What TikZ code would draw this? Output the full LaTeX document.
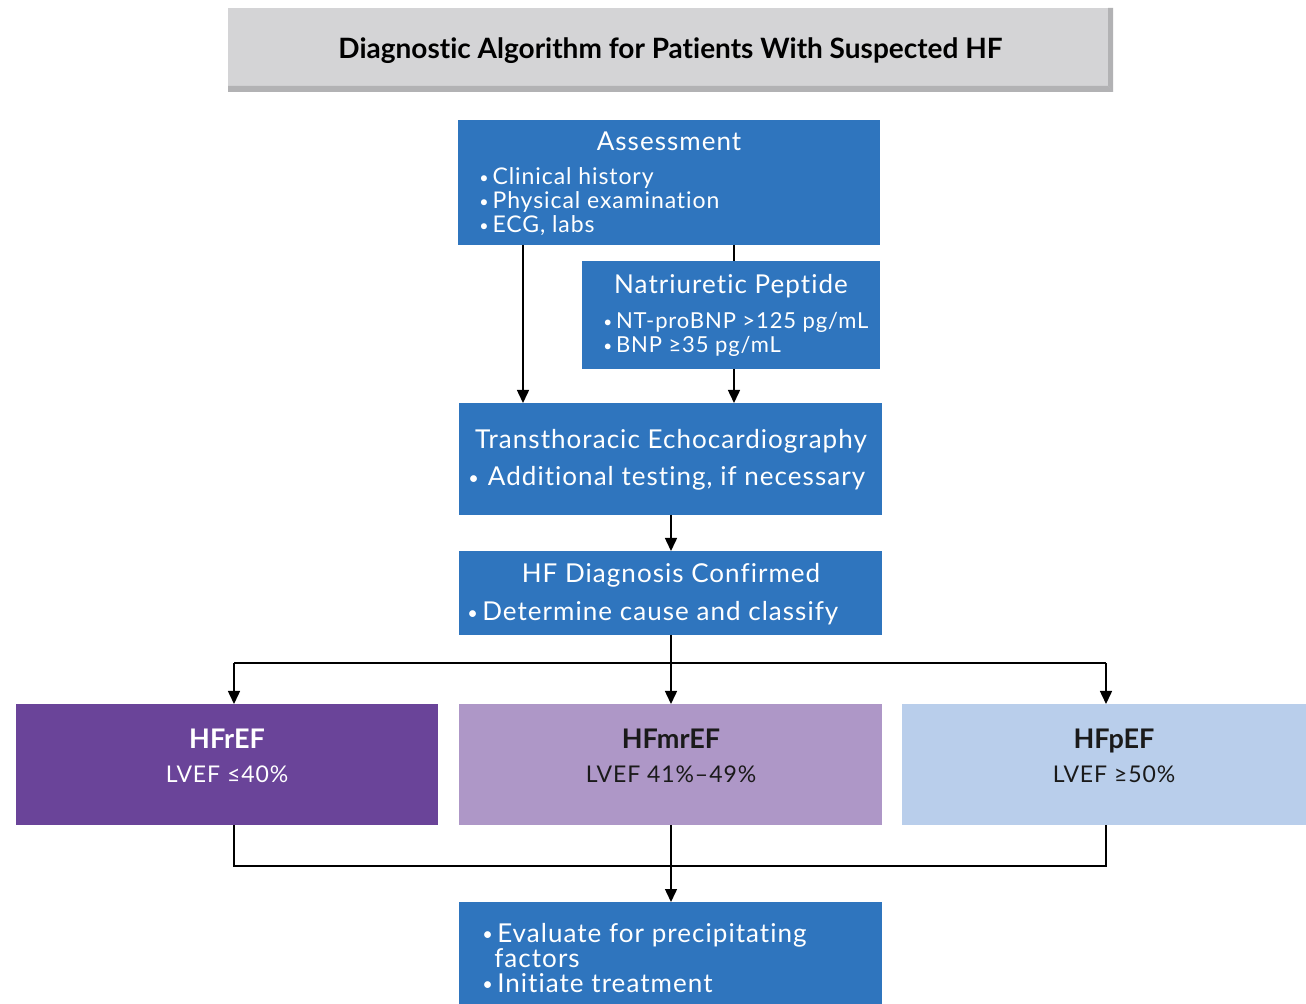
\documentclass[tikz,border=0pt]{standalone}
\usepackage{fontspec}
\setmainfont{Lato}[Ligatures=NoCommon]
\newfontfamily\boxfont{Lato}[LetterSpace=4,Ligatures=NoCommon]
\usetikzlibrary{arrows.meta}
\definecolor{hfblue}{RGB}{47,117,190}
\definecolor{titlegray}{RGB}{212,212,214}
\definecolor{bevelgray}{RGB}{178,178,180}
\definecolor{purpdark}{RGB}{106,68,153}
\definecolor{purplight}{RGB}{174,151,199}
\definecolor{bluelight}{RGB}{185,206,235}
\definecolor{darktext}{RGB}{26,26,26}
\newcommand{\bul}{\raisebox{0.12ex}{\scalebox{0.7}{•}}}
\begin{document}
\begin{tikzpicture}[x=0.5pt,y=-0.5pt,
  boxshape/.style={rectangle, inner sep=0pt, outer sep=0pt},
  bluebox/.style={boxshape, fill=hfblue},
  wtxt/.style={inner sep=0pt, text=white, font=\boxfont\fontsize{13pt}{15pt}\selectfont},
  wsmall/.style={inner sep=0pt, text=white, font=\boxfont\fontsize{11.5pt}{13pt}\selectfont},
  htitle/.style={inner sep=0pt, font=\bfseries\fontsize{13.5pt}{15pt}\selectfont},
  hsub/.style={inner sep=0pt, font=\boxfont\fontsize{11.5pt}{13pt}\selectfont},
  conn/.style={line width=0.75pt, draw=black},
  arr/.style={conn, -{Triangle[width=6pt,length=6.5pt]}}]
\useasboundingbox (0,0) rectangle (1306,1004);
\fill[white] (0,0) rectangle (1306,1004);

% title bar with bevel
\node[boxshape, fill=titlegray, minimum width=442.5pt, minimum height=42pt] (title) at (670.5,50) {};
\fill[bevelgray] (title.south west) -- (title.south east) -- ([xshift=-2.5pt,yshift=3pt]title.south east) -- ([yshift=3pt]title.south west) -- cycle;
\fill[bevelgray] (title.north east) -- (title.south east) -- ([xshift=-2.5pt,yshift=3pt]title.south east) -- ([xshift=-2.5pt]title.north east) -- cycle;
\node[inner sep=0pt, anchor=base, font=\bfseries\fontsize{14pt}{16pt}\selectfont] (titleT) at (670.5,59) {Diagnostic Algorithm for Patients With Suspected HF};

% Assessment
\node[bluebox, minimum width=211pt, minimum height=62.5pt] (assess) at (669,182.5) {};
\node[wtxt, anchor=base] (assessT) at (669,151) {Assessment};
\node[wsmall, anchor=base west] (assess1) at (479,185) {\bul\,Clinical history};
\node[wsmall, anchor=base west] (assess2) at (479,209) {\bul\,Physical examination};
\node[wsmall, anchor=base west] (assess3) at (479,233) {\bul\,ECG, labs};

% Natriuretic peptide
\node[bluebox, minimum width=149pt, minimum height=54pt] (np) at (731,315) {};
\node[wtxt, anchor=base] (npT) at (731,294) {Natriuretic Peptide};
\node[wsmall, anchor=base west, font=\boxfont\fontsize{11pt}{13pt}\selectfont] (np1) at (603,329) {\bul\,NT-proBNP >125 pg/mL};
\node[wsmall, anchor=base west, font=\boxfont\fontsize{11pt}{13pt}\selectfont] (np2) at (603,353) {\bul\,BNP ≥35 pg/mL};

% Echo
\node[bluebox, minimum width=211.5pt, minimum height=56pt] (echo) at (670.5,459) {};
\node[wtxt, anchor=base] (echoT) at (671,449) {Transthoracic Echocardiography};
\node[wtxt, anchor=base west] (echo1) at (468,486) {\bul\hspace{4.5pt}Additional testing, if necessary};

% Dx
\node[bluebox, minimum width=211.5pt, minimum height=42pt] (dx) at (670.5,593) {};
\node[wtxt, anchor=base] (dxT) at (671,583) {HF Diagnosis Confirmed};
\node[wtxt, anchor=base west] (dx1) at (467,621) {\bul\,Determine cause and classify};

% HF types
\node[boxshape, fill=purpdark, minimum width=211pt, minimum height=60.5pt] (hfr) at (227,764.5) {};
\node[htitle, text=white, anchor=base] (hfrT) at (227,748) {HFrEF};
\node[hsub, text=white, anchor=base] (hfrS) at (227,782) {LVEF ≤40\%};

\node[boxshape, fill=purplight, minimum width=211.5pt, minimum height=60.5pt] (hfm) at (670.5,764.5) {};
\node[htitle, text=darktext, anchor=base] (hfmT) at (671,748) {HFmrEF};
\node[hsub, text=darktext, anchor=base] (hfmS) at (671,782) {LVEF 41\%–49\%};

\node[boxshape, fill=bluelight, minimum width=202pt, minimum height=60.5pt] (hfp) at (1104,764.5) {};
\node[htitle, text=darktext, anchor=base] (hfpT) at (1114,748) {HFpEF};
\node[hsub, text=darktext, anchor=base] (hfpS) at (1114,782) {LVEF ≥50\%};

% bottom box
\node[bluebox, minimum width=211.5pt, minimum height=51pt] (treat) at (670.5,953) {};
\node[wtxt, anchor=base west] (treat1) at (482,942) {\bul\,Evaluate for precipitating};
\node[wtxt, anchor=base west] (treat2) at (494,967) {factors};
\node[wtxt, anchor=base west] (treat3) at (482,992) {\bul\,Initiate treatment};

% x positions
\coordinate (xL) at (523,0);
\coordinate (xR) at (734,0);
\coordinate (xC) at (671,0);
\coordinate (x1) at (234,0);
\coordinate (x3) at (1106,0);
\coordinate (ysplit) at (0,663);
\coordinate (yjoin) at (0,866);

% connectors
\draw[arr] (assess.south -| xL) -- (echo.north -| xL);
\draw[conn] (assess.south -| xR) -- (np.north -| xR);
\draw[arr] (np.south -| xR) -- (echo.north -| xR);
\draw[arr] (echo.south -| xC) -- (dx.north -| xC);
\draw[conn] (dx.south -| xC) -- (xC |- ysplit);
\draw[conn] (x1 |- ysplit) -- (x3 |- ysplit);
\draw[arr] (x1 |- ysplit) -- (hfr.north -| x1);
\draw[arr] (xC |- ysplit) -- (hfm.north -| xC);
\draw[arr] (x3 |- ysplit) -- (hfp.north -| x3);
\draw[conn] (hfr.south -| x1) -- (x1 |- yjoin) -- (x3 |- yjoin) -- (hfp.south -| x3);
\draw[conn] (hfm.south -| xC) -- (xC |- yjoin);
\draw[arr] (xC |- yjoin) -- (treat.north -| xC);
\end{tikzpicture}
\end{document}
